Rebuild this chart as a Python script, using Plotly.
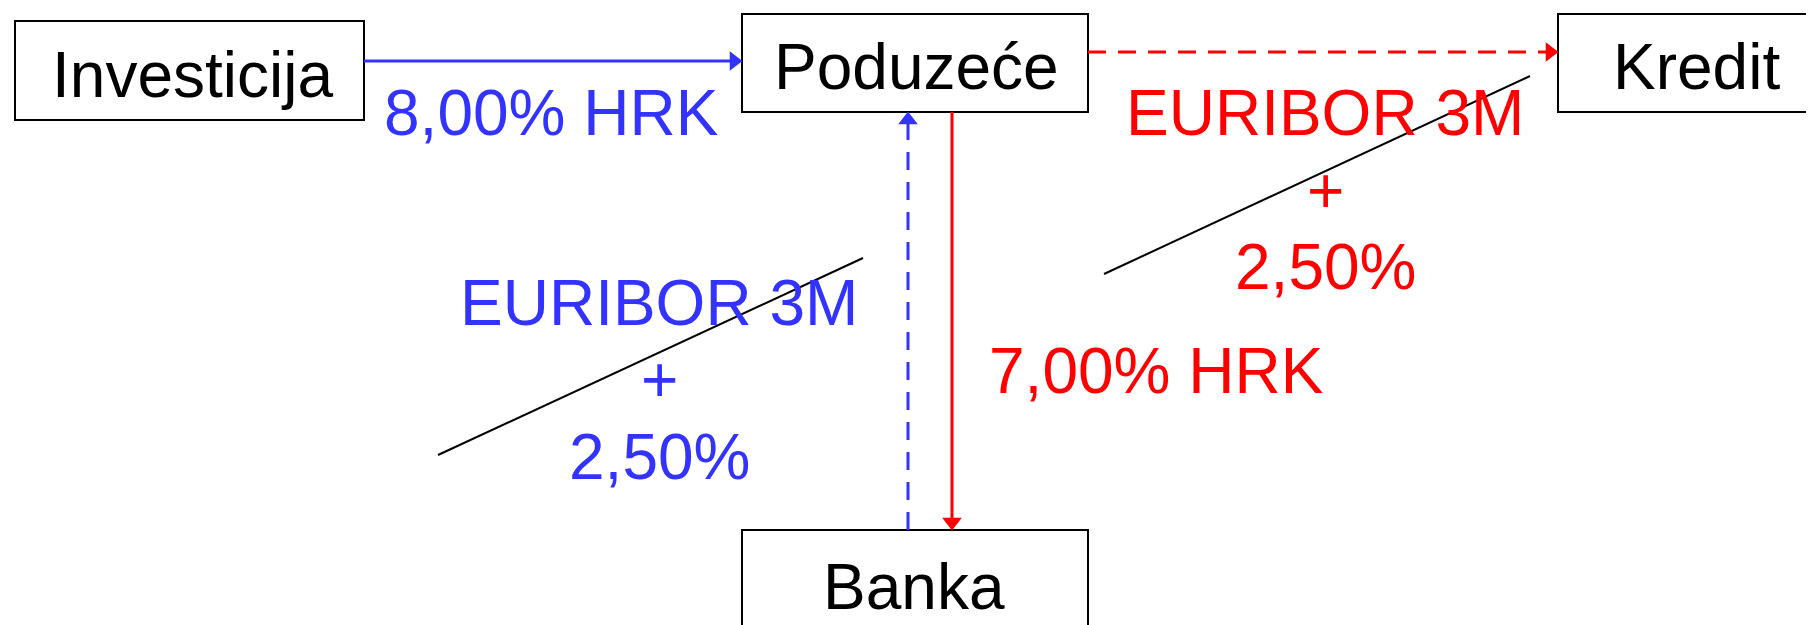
import plotly.graph_objects as go

# ---- data ----
node_names = ["Investicija", "Poduzeće", "Kredit", "Banka"]
rate_invest = "8,00% HRK"
rate_bank = "7,00% HRK"
swap_lines = ["EURIBOR 3M", "+", "2,50%"]

BLUE = "#3333FF"
RED = "#FF0000"
FONT = "Liberation Sans, Arial, sans-serif"
W, H = 1814, 625
PAD = 8  # default body margin of the html page
FS = 64
DY = 3  # vertical text nudge

# layout geometry (page pixels)
boxes = {
    "Investicija": (15, 21, 364, 120),
    "Poduzeće": (742, 14, 1088, 112),
    "Kredit": (1558, 14, 1840, 112),
    "Banka": (742, 530, 1088, 650),
}
label_pos = {
    "Investicija": (192, 72),
    "Poduzeće": (916, 64),
    "Kredit": (1696, 64),
    "Banka": (914, 584),
}

fig = go.Figure()
shapes = []
annotations = []

for name in node_names:
    x0, y0, x1, y1 = boxes[name]
    if name == "Kredit":
        shapes.append(dict(type="path", xref="x", yref="y",
                           path=f"M {x1},{y0} L {x0},{y0} L {x0},{y1} L {x1},{y1}",
                           line=dict(color="black", width=2), layer="below"))
    elif name == "Banka":
        shapes.append(dict(type="path", xref="x", yref="y",
                           path=f"M {x0},{y1} L {x0},{y0} L {x1},{y0} L {x1},{y1}",
                           line=dict(color="black", width=2), layer="below"))
    else:
        shapes.append(dict(type="rect", xref="x", yref="y", x0=x0, y0=y0, x1=x1, y1=y1,
                           line=dict(color="black", width=2), fillcolor="white", layer="below"))
    lx, ly = label_pos[name]
    annotations.append(dict(x=lx, y=ly + DY, text=name, showarrow=False,
                            font=dict(family=FONT, size=FS, color="black")))

def arrow_line(xs, ys, color, dash, head_symbol, head_x, head_y):
    fig.add_trace(go.Scatter(x=xs, y=ys, mode="lines",
                             line=dict(color=color, width=3, dash=dash),
                             hoverinfo="skip", showlegend=False))
    fig.add_trace(go.Scatter(x=[head_x], y=[head_y], mode="markers",
                             marker=dict(symbol=head_symbol, size=17, color=color,
                                         line=dict(width=0)),
                             hoverinfo="skip", showlegend=False))

# Investicija -> Poduzece (blue solid)
arrow_line([364, 732], [61, 61], BLUE, "solid", "triangle-right", 734, 61)
# Poduzece -> Kredit (red dashed)
arrow_line([1088, 1548], [52, 52], RED, "18px,12px", "triangle-right", 1550, 52)
# Banka -> Poduzece (blue dashed, up)
arrow_line([908, 908], [530, 122], BLUE, "18px,12px", "triangle-up", 908, 120)
# Poduzece -> Banka (red solid, down)
arrow_line([952, 952], [112, 520], RED, "solid", "triangle-down", 952, 522)

# black diagonal lines
fig.add_trace(go.Scatter(x=[438, 863], y=[455, 258], mode="lines",
                         line=dict(color="black", width=2), hoverinfo="skip", showlegend=False))
fig.add_trace(go.Scatter(x=[1104, 1530], y=[274, 76], mode="lines",
                         line=dict(color="black", width=2), hoverinfo="skip", showlegend=False))

# rate labels
annotations.append(dict(x=551, y=110 + DY, text=rate_invest, showarrow=False,
                        font=dict(family=FONT, size=FS, color=BLUE)))
annotations.append(dict(x=1156, y=368 + DY, text=rate_bank, showarrow=False,
                        font=dict(family=FONT, size=FS, color=RED)))
red_y = [110, 188, 264]
blue_y = [300, 377, 454]
for i, t in enumerate(swap_lines):
    annotations.append(dict(x=1325, y=red_y[i] + DY, text=t, showarrow=False,
                            font=dict(family=FONT, size=FS, color=RED)))
    annotations.append(dict(x=659, y=blue_y[i] + DY, text=t, showarrow=False,
                            font=dict(family=FONT, size=FS, color=BLUE)))

for a in annotations:
    a.setdefault("xref", "x")
    a.setdefault("yref", "y")

fig.update_layout(
    width=W - PAD, height=H - PAD,
    margin=dict(l=0, r=0, t=0, b=0),
    paper_bgcolor="white", plot_bgcolor="white",
    xaxis=dict(range=[PAD, W], visible=False, fixedrange=True),
    yaxis=dict(range=[H, PAD], visible=False, fixedrange=True),
    shapes=shapes, annotations=annotations,
    showlegend=False,
)
fig.write_html("out.html")
